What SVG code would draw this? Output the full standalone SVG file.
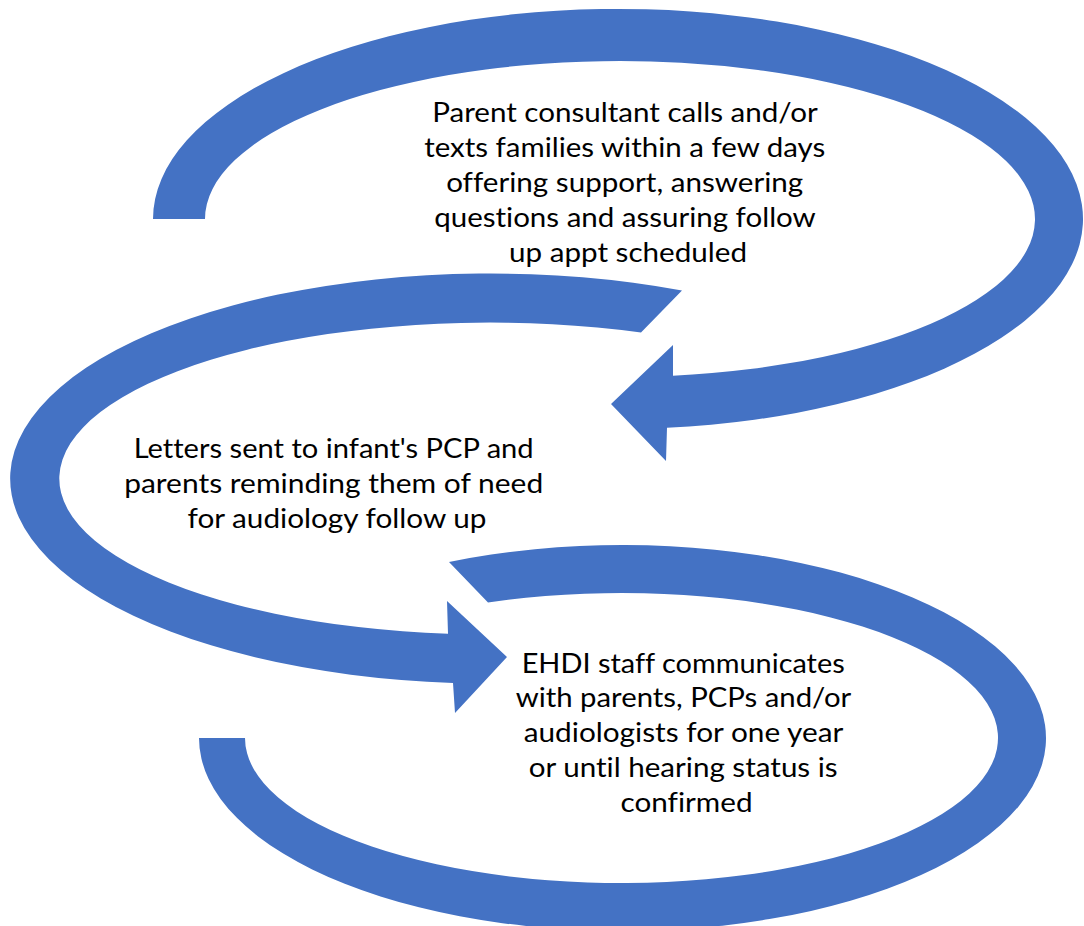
<svg xmlns="http://www.w3.org/2000/svg" width="1084" height="926" viewBox="0 0 1084 926">
  <style>
    .band { fill: #4472C4; stroke: none; }
    .label { font-family: Lato, "Open Sans", "Liberation Sans", sans-serif; font-size: 26px; fill: #000000; text-anchor: middle; font-variant-ligatures: none; }
  </style>
  <rect width="1084" height="926" fill="#ffffff"/>

  <!-- curved process arrows -->
  <g id="connectors">
    <!-- top loop: flat tail on the left, head pointing left -->
    <path id="arrow-top" class="band" d="M153,219 A465,210 0 1 1 667,427.8 L666,461 L611,404 L673,345 L673,375.7 A415,158 0 1 0 205,219 Z"/>
    <!-- middle loop: slanted tail top right, head pointing right -->
    <path id="arrow-middle" class="band" d="M682,290.6 A480,205 0 1 0 453,682.9 L455,713 L507,657 L447,601 L448,633.8 A431,156 0 1 1 641,332.4 Z"/>
    <!-- bottom loop: slanted tail top, flat end on the left -->
    <path id="arrow-bottom" class="band" d="M449,562 A423.5,193 0 1 1 199,738 L245,738 A376.5,145 0 1 0 488,602.4 Z"/>
  </g>

  <g id="step-parent-consultant">
    <text class="label">
      <tspan x="628" y="122" textLength="385" lengthAdjust="spacingAndGlyphs">Parent consultant calls and/or</tspan>
      <tspan x="628" y="157" textLength="401" lengthAdjust="spacingAndGlyphs">texts families within a few days</tspan>
      <tspan x="628" y="192" textLength="357" lengthAdjust="spacingAndGlyphs">offering support, answering</tspan>
      <tspan x="628" y="227" textLength="381" lengthAdjust="spacingAndGlyphs">questions and assuring follow</tspan>
      <tspan x="628" y="262" textLength="238" lengthAdjust="spacingAndGlyphs">up appt scheduled</tspan>
    </text>
  </g>

  <g id="step-letters">
    <text class="label">
      <tspan x="337" y="458" textLength="400" lengthAdjust="spacingAndGlyphs">Letters sent to infant's PCP and</tspan>
      <tspan x="337" y="493" textLength="419" lengthAdjust="spacingAndGlyphs">parents reminding them of need</tspan>
      <tspan x="337" y="528" textLength="299" lengthAdjust="spacingAndGlyphs">for audiology follow up</tspan>
    </text>
  </g>

  <g id="step-ehdi-staff">
    <text class="label">
      <tspan x="686.5" y="673" textLength="323" lengthAdjust="spacingAndGlyphs">EHDI staff communicates</tspan>
      <tspan x="686.5" y="707" textLength="335" lengthAdjust="spacingAndGlyphs">with parents, PCPs and/or</tspan>
      <tspan x="686.5" y="742" textLength="319" lengthAdjust="spacingAndGlyphs">audiologists for one year</tspan>
      <tspan x="686.5" y="777" textLength="309" lengthAdjust="spacingAndGlyphs">or until hearing status is</tspan>
      <tspan x="686.5" y="812" textLength="132" lengthAdjust="spacingAndGlyphs">confirmed</tspan>
    </text>
  </g>
</svg>
